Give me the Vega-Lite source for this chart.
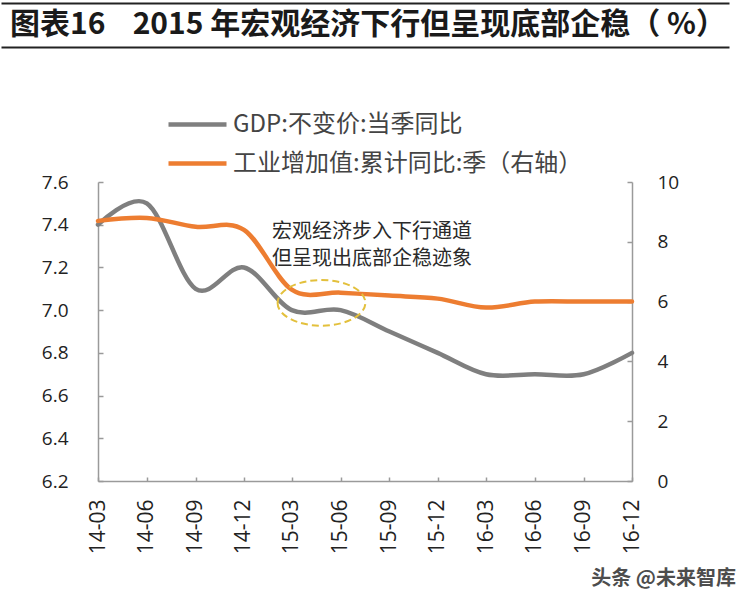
{
  "$schema": "https://vega.github.io/schema/vega-lite/v6.json",
  "background": "white",
  "padding": {"left": 1, "top": 3, "right": 5, "bottom": 5},
  "bounds": "flush",
  "center": true,
  "spacing": 135,
  "config": {"view": {"stroke": null}, "font": "Noto Sans CJK SC"},
  "title": {"text": "头条 @未来智库", "orient": "bottom", "anchor": "end", "fontSize": 20, "fontWeight": "bold", "color": "#4d4d4d", "font": "Noto Sans CJK SC", "offset": 15, "dx": 7},
  "datasets": {
    "gdp": [
      {"date": "2014-03-01", "series": "GDP:不变价:当季同比", "value": 7.4},
      {"date": "2014-06-01", "series": "GDP:不变价:当季同比", "value": 7.5},
      {"date": "2014-09-01", "series": "GDP:不变价:当季同比", "value": 7.1},
      {"date": "2014-12-01", "series": "GDP:不变价:当季同比", "value": 7.2},
      {"date": "2015-03-01", "series": "GDP:不变价:当季同比", "value": 7.0},
      {"date": "2015-06-01", "series": "GDP:不变价:当季同比", "value": 7.0},
      {"date": "2015-09-01", "series": "GDP:不变价:当季同比", "value": 6.9},
      {"date": "2015-12-01", "series": "GDP:不变价:当季同比", "value": 6.8},
      {"date": "2016-03-01", "series": "GDP:不变价:当季同比", "value": 6.7},
      {"date": "2016-06-01", "series": "GDP:不变价:当季同比", "value": 6.7},
      {"date": "2016-09-01", "series": "GDP:不变价:当季同比", "value": 6.7},
      {"date": "2016-12-01", "series": "GDP:不变价:当季同比", "value": 6.8}
    ],
    "ind": [
      {"date": "2014-03-01", "series": "工业增加值:累计同比:季（右轴）", "value": 8.7},
      {"date": "2014-06-01", "series": "工业增加值:累计同比:季（右轴）", "value": 8.8},
      {"date": "2014-09-01", "series": "工业增加值:累计同比:季（右轴）", "value": 8.5},
      {"date": "2014-12-01", "series": "工业增加值:累计同比:季（右轴）", "value": 8.4},
      {"date": "2015-03-01", "series": "工业增加值:累计同比:季（右轴）", "value": 6.4},
      {"date": "2015-06-01", "series": "工业增加值:累计同比:季（右轴）", "value": 6.3},
      {"date": "2015-09-01", "series": "工业增加值:累计同比:季（右轴）", "value": 6.2},
      {"date": "2015-12-01", "series": "工业增加值:累计同比:季（右轴）", "value": 6.1},
      {"date": "2016-03-01", "series": "工业增加值:累计同比:季（右轴）", "value": 5.8},
      {"date": "2016-06-01", "series": "工业增加值:累计同比:季（右轴）", "value": 6.0},
      {"date": "2016-09-01", "series": "工业增加值:累计同比:季（右轴）", "value": 6.0},
      {"date": "2016-12-01", "series": "工业增加值:累计同比:季（右轴）", "value": 6.0}
    ]
  },
  "vconcat": [
    {
      "width": 728,
      "height": 44,
      "data": {"values": [{"title": "图表16\u00a0\u00a0\u00a0\u00a02015 年宏观经济下行但呈现底部企稳（ %）"}]},
      "layer": [
        {
          "mark": {"type": "text", "align": "left", "baseline": "middle", "font": "Noto Sans CJK SC", "fontSize": 30, "fontWeight": "bold", "color": "#1a1a1a", "dx": 9},
          "encoding": {
            "x": {"datum": 0, "type": "quantitative", "scale": {"domain": [0, 1]}, "axis": {"orient": "top", "domain": true, "domainColor": "#222222", "domainWidth": 2, "ticks": false, "labels": false, "grid": false, "title": null}},
            "y": {"datum": 0.5, "type": "quantitative", "scale": {"domain": [0, 1]}, "axis": null},
            "text": {"field": "title"}
          }
        },
        {
          "mark": {"type": "text"},
          "encoding": {
            "x": {"datum": 0, "type": "quantitative", "scale": {"domain": [0, 1]}, "axis": {"orient": "bottom", "domain": true, "domainColor": "#222222", "domainWidth": 2, "ticks": false, "labels": false, "grid": false, "title": null}},
            "y": {"datum": 0.5, "type": "quantitative", "scale": {"domain": [0, 1]}, "axis": null},
            "text": {"value": ""}
          }
        }
      ],
      "resolve": {"axis": {"x": "independent"}}
    },
    {
      "width": 534,
      "height": 299,
      "layer": [
        {
          "data": {"name": "gdp"},
          "mark": {"type": "line", "interpolate": "cardinal", "strokeWidth": 4.5, "strokeCap": "round"},
          "encoding": {
            "x": {
              "field": "date", "type": "temporal",
              "scale": {"type": "utc", "domain": [{"year": 2014, "month": 3, "date": 1, "utc": true}, {"year": 2016, "month": 12, "date": 1, "utc": true}]},
              "axis": {
                "values": [
                  {"year": 2014, "month": 3, "date": 1, "utc": true}, {"year": 2014, "month": 6, "date": 1, "utc": true},
                  {"year": 2014, "month": 9, "date": 1, "utc": true}, {"year": 2014, "month": 12, "date": 1, "utc": true},
                  {"year": 2015, "month": 3, "date": 1, "utc": true}, {"year": 2015, "month": 6, "date": 1, "utc": true},
                  {"year": 2015, "month": 9, "date": 1, "utc": true}, {"year": 2015, "month": 12, "date": 1, "utc": true},
                  {"year": 2016, "month": 3, "date": 1, "utc": true}, {"year": 2016, "month": 6, "date": 1, "utc": true},
                  {"year": 2016, "month": 9, "date": 1, "utc": true}, {"year": 2016, "month": 12, "date": 1, "utc": true}
                ],
                "labelExpr": "utcFormat(datum.value, '%y-%m')",
                "labelAngle": 270, "labelFlush": false, "labelOverlap": false,
                "labelPadding": 22, "labelFontSize": 21, "labelFont": "Open Sans", "labelColor": "#222222",
                "tickSize": -4, "tickColor": "#9a9a9a", "tickWidth": 1.5,
                "domainColor": "#9a9a9a", "domainWidth": 1.5,
                "grid": false, "title": null
              }
            },
            "y": {
              "field": "value", "type": "quantitative",
              "scale": {"domain": [6.2, 7.6], "nice": false, "zero": false},
              "axis": {
                "orient": "left", "values": [6.2, 6.4, 6.6, 6.8, 7.0, 7.2, 7.4, 7.6], "format": ".1f",
                "labelPadding": 35, "labelFontSize": 19, "labelFont": "Open Sans", "labelColor": "#222222", "labelOverlap": false,
                "tickSize": -5, "tickColor": "#9a9a9a", "tickWidth": 1.5,
                "domainColor": "#9a9a9a", "domainWidth": 1.5,
                "grid": false, "title": null
              }
            },
            "color": {
              "field": "series", "type": "nominal",
              "scale": {"domain": ["GDP:不变价:当季同比", "工业增加值:累计同比:季（右轴）"], "range": ["#7f7f7f", "#ed7d31"]},
              "legend": {
                "orient": "none", "legendX": 184, "legendY": 109, "direction": "vertical", "title": null,
                "symbolType": "M-2.9,0H2.9", "symbolSize": 400, "symbolStrokeWidth": 4.5,
                "labelFontSize": 24, "labelFont": "Noto Sans CJK SC", "labelColor": "#444444",
                "labelOffset": 23, "rowPadding": 14, "labelLimit": 600
              }
            }
          }
        },
        {
          "data": {"name": "ind"},
          "mark": {"type": "line", "interpolate": "cardinal", "strokeWidth": 4.5, "strokeCap": "round"},
          "encoding": {
            "x": {
              "field": "date", "type": "temporal",
              "axis": {
                "values": [
                  {"year": 2014, "month": 3, "date": 1, "utc": true}, {"year": 2014, "month": 6, "date": 1, "utc": true},
                  {"year": 2014, "month": 9, "date": 1, "utc": true}, {"year": 2014, "month": 12, "date": 1, "utc": true},
                  {"year": 2015, "month": 3, "date": 1, "utc": true}, {"year": 2015, "month": 6, "date": 1, "utc": true},
                  {"year": 2015, "month": 9, "date": 1, "utc": true}, {"year": 2015, "month": 12, "date": 1, "utc": true},
                  {"year": 2016, "month": 3, "date": 1, "utc": true}, {"year": 2016, "month": 6, "date": 1, "utc": true},
                  {"year": 2016, "month": 9, "date": 1, "utc": true}, {"year": 2016, "month": 12, "date": 1, "utc": true}
                ],
                "labelExpr": "utcFormat(datum.value, '%y-%m')",
                "labelAngle": 270, "labelFlush": false, "labelOverlap": false,
                "labelPadding": 22, "labelFontSize": 21, "labelFont": "Open Sans", "labelColor": "#222222",
                "tickSize": -4, "tickColor": "#9a9a9a", "tickWidth": 1.5,
                "domainColor": "#9a9a9a", "domainWidth": 1.5,
                "grid": false, "title": null
              }
            },
            "y": {
              "field": "value", "type": "quantitative",
              "scale": {"domain": [0, 10], "nice": false},
              "axis": {
                "orient": "right", "values": [0, 2, 4, 6, 8, 10], "format": "d",
                "labelPadding": 30, "labelAlign": "left", "labelFontSize": 19, "labelFont": "Open Sans", "labelColor": "#222222", "labelOverlap": false,
                "tickSize": -5, "tickColor": "#9a9a9a", "tickWidth": 1.5,
                "domainColor": "#9a9a9a", "domainWidth": 1.5,
                "grid": false, "title": null
              }
            },
            "color": {"field": "series", "type": "nominal"}
          }
        },
        {
          "data": {"values": [{"note": "宏观经济步入下行通道\n但呈现出底部企稳迹象"}]},
          "mark": {"type": "text", "fontSize": 20, "font": "Noto Sans CJK SC", "color": "#2a2a2a", "lineHeight": 27, "align": "center", "baseline": "middle", "lineBreak": "\n"},
          "encoding": {
            "x": {
              "datum": {"year": 2015, "month": 7, "date": 30, "utc": true}, "type": "temporal",
              "axis": {
                "values": [
                  {"year": 2014, "month": 3, "date": 1, "utc": true}, {"year": 2014, "month": 6, "date": 1, "utc": true},
                  {"year": 2014, "month": 9, "date": 1, "utc": true}, {"year": 2014, "month": 12, "date": 1, "utc": true},
                  {"year": 2015, "month": 3, "date": 1, "utc": true}, {"year": 2015, "month": 6, "date": 1, "utc": true},
                  {"year": 2015, "month": 9, "date": 1, "utc": true}, {"year": 2015, "month": 12, "date": 1, "utc": true},
                  {"year": 2016, "month": 3, "date": 1, "utc": true}, {"year": 2016, "month": 6, "date": 1, "utc": true},
                  {"year": 2016, "month": 9, "date": 1, "utc": true}, {"year": 2016, "month": 12, "date": 1, "utc": true}
                ],
                "labelExpr": "utcFormat(datum.value, '%y-%m')",
                "labelAngle": 270, "labelFlush": false, "labelOverlap": false,
                "labelPadding": 22, "labelFontSize": 21, "labelFont": "Open Sans", "labelColor": "#222222",
                "tickSize": -4, "tickColor": "#9a9a9a", "tickWidth": 1.5,
                "domainColor": "#9a9a9a", "domainWidth": 1.5,
                "grid": false, "title": null
              }
            },
            "y": {"datum": 7.364, "type": "quantitative", "scale": {"domain": [6.2, 7.6], "nice": false, "zero": false}, "axis": null},
            "text": {"field": "note"}
          }
        },
        {
          "data": {"values": [{"note": "ellipse"}]},
          "mark": {"type": "point", "shape": "M-1,0A1,0.52,0,1,0,1,0A1,0.52,0,1,0,-1,0Z", "size": 7700, "filled": false, "stroke": "#e3c03c", "strokeWidth": 2, "strokeDash": [7, 4], "opacity": 1},
          "encoding": {
            "x": {
              "datum": {"year": 2015, "month": 4, "date": 26, "utc": true}, "type": "temporal",
              "axis": {
                "values": [
                  {"year": 2014, "month": 3, "date": 1, "utc": true}, {"year": 2014, "month": 6, "date": 1, "utc": true},
                  {"year": 2014, "month": 9, "date": 1, "utc": true}, {"year": 2014, "month": 12, "date": 1, "utc": true},
                  {"year": 2015, "month": 3, "date": 1, "utc": true}, {"year": 2015, "month": 6, "date": 1, "utc": true},
                  {"year": 2015, "month": 9, "date": 1, "utc": true}, {"year": 2015, "month": 12, "date": 1, "utc": true},
                  {"year": 2016, "month": 3, "date": 1, "utc": true}, {"year": 2016, "month": 6, "date": 1, "utc": true},
                  {"year": 2016, "month": 9, "date": 1, "utc": true}, {"year": 2016, "month": 12, "date": 1, "utc": true}
                ],
                "labelExpr": "utcFormat(datum.value, '%y-%m')",
                "labelAngle": 270, "labelFlush": false, "labelOverlap": false,
                "labelPadding": 22, "labelFontSize": 21, "labelFont": "Open Sans", "labelColor": "#222222",
                "tickSize": -4, "tickColor": "#9a9a9a", "tickWidth": 1.5,
                "domainColor": "#9a9a9a", "domainWidth": 1.5,
                "grid": false, "title": null
              }
            },
            "y": {"datum": 7.034, "type": "quantitative", "scale": {"domain": [6.2, 7.6], "nice": false, "zero": false}, "axis": null}
          }
        }
      ],
      "resolve": {"scale": {"y": "independent"}}
    }
  ]
}
